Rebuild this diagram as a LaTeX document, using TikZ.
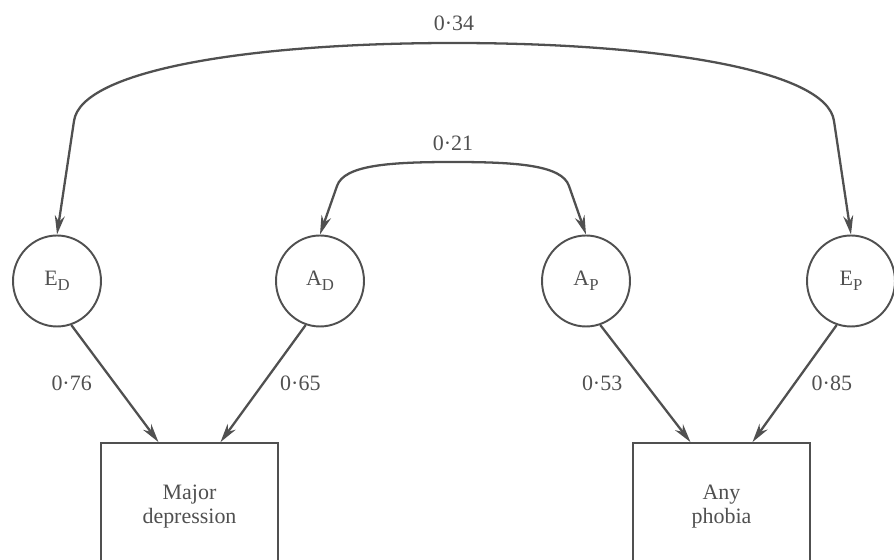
\documentclass[tikz,border=0pt]{standalone}
\usepackage{fontspec}
\setmainfont{Liberation Serif}
\usetikzlibrary{arrows.meta, positioning, shapes.geometric}
\definecolor{ink}{RGB}{80,80,80}
\newcommand{\fsub}[1]{\raisebox{-0.45ex}{\fontsize{9.5}{10}\selectfont #1}}

\begin{document}
\begin{tikzpicture}[x=0.02cm, y=-0.02cm, font=\fontsize{12.5}{13.5}\selectfont, color=ink,
  latent/.style={draw, ellipse, line width=1.1pt, minimum width=1.76cm, minimum height=1.82cm, inner sep=0pt},
  observed/.style={draw, rectangle, line width=1pt, minimum width=3.54cm, minimum height=2.54cm, align=center},
  effect/.style={line width=1.3pt, -{Stealth[length=0.38cm, width=0.2cm]}},
  corr/.style={line width=1.3pt, {Stealth[length=0.38cm, width=0.2cm]}-{Stealth[length=0.38cm, width=0.2cm]}},
  weight/.style={inner sep=0pt}]
  \useasboundingbox (0,0) rectangle (894,560);

  % latent factors
  \node [latent] (ED) at (57,281) {E\fsub{D}};
  \node [latent] (AD) at (320,281) {A\fsub{D}};
  \node [latent] (AP) at (586,281) {A\fsub{P}};
  \node [latent] (EP) at (851,281) {E\fsub{P}};

  % observed disorders
  \node [observed] (MD) at (189.5,506.5) {Major\\depression};
  \node [observed] (PH) at (721.5,506.5) {Any\\phobia};

  % correlations
  \draw [corr] (ED.north) -- (74,121) .. controls (81,70) and (250,43) .. (454,43)
    .. controls (658,43) and (827,70) .. (834,121) -- (EP.north);
  \draw [corr] (AD.north) -- (337,186) .. controls (344,165) and (390,162) .. (453,162)
    .. controls (516,162) and (562,165) .. (569,186) -- (AP.north);
  \node [weight] (r1) at (454,23) {0·34};
  \node [weight] (r2) at (453,143) {0·21};

  % loadings
  \draw [effect] (ED.-72) -- ([xshift=-0.62cm]MD.north) node [weight, midway, left=0.44cm] {0·76};
  \draw [effect] (AD.-108) -- ([xshift=0.62cm]MD.north) node [weight, midway, right=0.32cm] {0·65};
  \draw [effect] (AP.-72) -- ([xshift=-0.62cm]PH.north) node [weight, midway, left=0.44cm] {0·53};
  \draw [effect] (EP.-108) -- ([xshift=0.62cm]PH.north) node [weight, midway, right=0.32cm] {0·85};
\end{tikzpicture}
\end{document}
